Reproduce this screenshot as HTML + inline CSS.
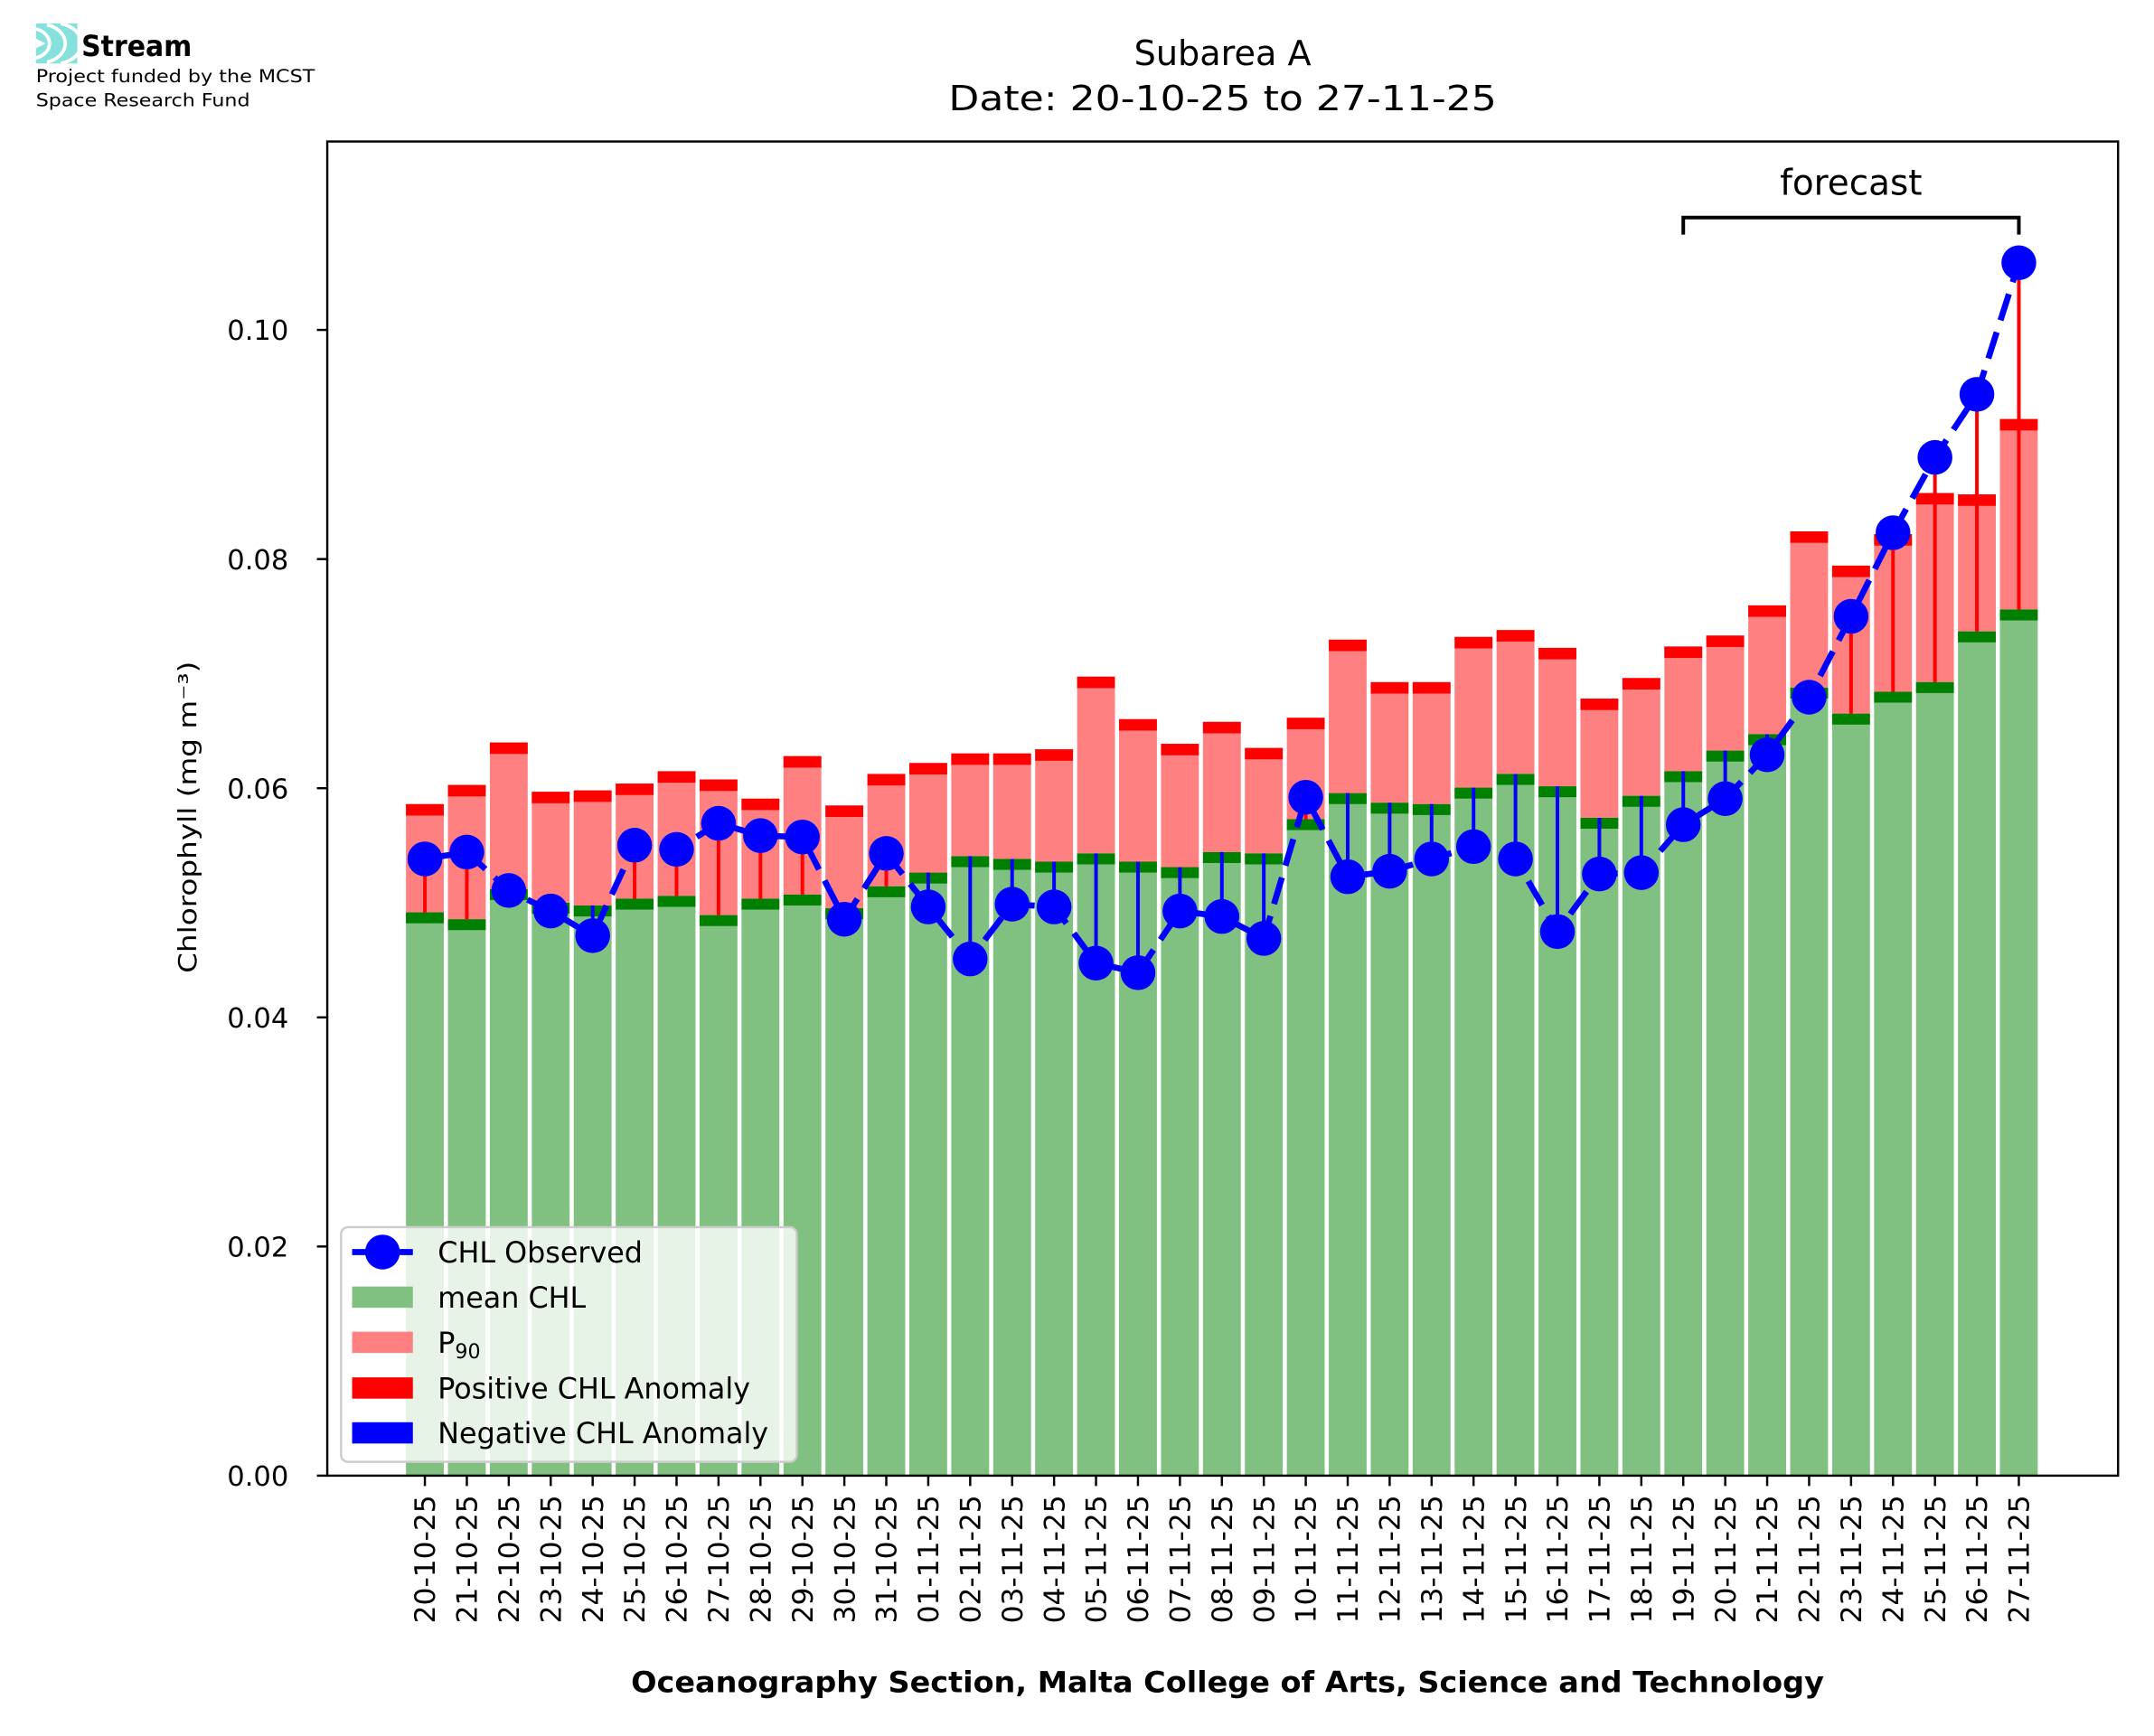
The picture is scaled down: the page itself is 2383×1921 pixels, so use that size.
<!DOCTYPE html>
<html><head><meta charset="utf-8"><style>html,body{margin:0;padding:0;background:#fff}svg{display:block}</style></head>
<body>
<svg id="c" xmlns="http://www.w3.org/2000/svg" width="2383" height="1921" viewBox="0 0 1560 1257.6" font-family="DejaVu Sans, Liberation Sans, sans-serif">
<rect width="1560" height="1257.6" fill="#fff"/>
<g id="plot"></g>
<g>
<rect x="26" y="17" width="30" height="29" fill="#86e0dc"/>
<path d="M26 21 A14 11 0 0 1 26 42" fill="none" stroke="#fff" stroke-width="2.5"/>
<path d="M34 18 A18 14 0 0 1 34 45" fill="none" stroke="#fff" stroke-width="2.5"/>
<path d="M44 17 A20 15 0 0 1 44 46" fill="none" stroke="#fff" stroke-width="2.5"/>
<path d="M26 28 L33 31.5 L26 35 Z" fill="#fff"/>
<text x="59" y="40.5" font-size="21" font-weight="bold" textLength="80" lengthAdjust="spacingAndGlyphs">Stream</text>
<text x="26" y="59.5" font-size="12.5" textLength="202" lengthAdjust="spacingAndGlyphs">Project funded by the MCST</text>
<text x="26" y="77" font-size="12.5" textLength="155" lengthAdjust="spacingAndGlyphs">Space Research Fund</text>
</g>
<text x="885.5" y="47" font-size="25" text-anchor="middle">Subarea A</text>
<text x="885.5" y="80" font-size="25" text-anchor="middle" textLength="397" lengthAdjust="spacingAndGlyphs">Date: 20-10-25 to 27-11-25</text>
</svg>
<script>
(function(){
var NS="http://www.w3.org/2000/svg";
var g=document.getElementById('plot');
function el(t,a,txt){var e=document.createElementNS(NS,t);for(var k in a)e.setAttribute(k,a[k]);if(txt!==undefined)e.textContent=txt;g.appendChild(e);return e;}
function cy(v){return 239+(v-240)*(830/836);}
var dates=["20-10-25","21-10-25","22-10-25","23-10-25","24-10-25","25-10-25","26-10-25","27-10-25","28-10-25","29-10-25","30-10-25","31-10-25","01-11-25","02-11-25","03-11-25","04-11-25","05-11-25","06-11-25","07-11-25","08-11-25","09-11-25","10-11-25","11-11-25","12-11-25","13-11-25","14-11-25","15-11-25","16-11-25","17-11-25","18-11-25","19-11-25","20-11-25","21-11-25","22-11-25","23-11-25","24-11-25","25-11-25","26-11-25","27-11-25"];
var d=[[586,665,626],[572,670,621],[541,648,649],[577,658,664],[576,660,682],[571,655,616],[562,653,619],[568,667,600],[582,655,609],[551,652,610],[587,662,670],[564,646,622],[556,636,661],[549,624,699],[549,626,659],[546,628,661],[493,622,702],[524,628,709],[542,632,664],[526,621,668],[545,622,684],[523,597,581],[466,578,639],[497,585,635],[497,586,626],[464,574,617],[459,564,626],[472,573,679],[509,596,637],[494,580,636],[471,562,601],[463,547,582],[441,535,550],[387,501,508],[412,520,449],[389,504,388],[359,497,333],[360,460,287],[305,444,191]];
var y0=1069,left=237,right=1534,top=102.5;
var x0=307.7,dx=30.38,bw=27.4;
var i,x,p,m,o;
for(i=0;i<d.length;i++){
 x=x0+i*dx;p=cy(d[i][0]);m=cy(d[i][1]);o=cy(d[i][2]);
 el('rect',{x:x-bw/2,y:m,width:bw,height:y0-m,fill:'#80c080'});
 el('rect',{x:x-bw/2,y:p,width:bw,height:m-p,fill:'#ff8080'});
 el('rect',{x:x-bw/2,y:p,width:bw,height:8.3,fill:'#ff0000'});
 el('rect',{x:x-bw/2,y:m,width:bw,height:7.9,fill:'#008000'});
}
for(i=0;i<d.length;i++){
 x=x0+i*dx;m=cy(d[i][1]);o=cy(d[i][2]);
 el('line',{x1:x,y1:m,x2:x,y2:o,stroke:(o<m?'#ff0000':'#0000ff'),'stroke-width':2.6});
}
var pts=[];for(i=0;i<d.length;i++)pts.push((x0+i*dx).toFixed(2)+','+cy(d[i][2]).toFixed(2));
el('polyline',{points:pts.join(' '),fill:'none',stroke:'#0000ff','stroke-width':4.4,'stroke-dasharray':'20 9'});
for(i=0;i<d.length;i++)el('circle',{cx:x0+i*dx,cy:cy(d[i][2]),r:12.6,fill:'#0000ff'});
var bx1=x0+30*dx,bx2=x0+38*dx;
el('path',{d:'M'+bx1+' 170 L'+bx1+' 157.6 L'+bx2+' 157.6 L'+bx2+' 170',fill:'none',stroke:'#000','stroke-width':2.6});
el('text',{x:(bx1+bx2)/2,y:141,'font-size':25.5,'text-anchor':'middle'},'forecast');
el('rect',{x:left,y:top,width:right-left,height:y0-top,fill:'none',stroke:'#000','stroke-width':1.6});
var lab=["0.00","0.02","0.04","0.06","0.08","0.10"];
for(i=0;i<6;i++){var yy=y0-i*166;
 el('line',{x1:left-7.5,y1:yy,x2:left,y2:yy,stroke:'#000','stroke-width':1.6});
 el('text',{x:209,y:yy+7.3,'font-size':20,'text-anchor':'end'},lab[i]);}
for(i=0;i<dates.length;i++){x=x0+i*dx;
 el('line',{x1:x,y1:y0,x2:x,y2:y0+7.5,stroke:'#000','stroke-width':1.6});
 el('text',{x:0,y:0,'font-size':20.5,'text-anchor':'end',transform:'translate('+(x+7.3)+','+(y0+14)+') rotate(-90)'},dates[i]);}
el('text',{x:0,y:0,'font-size':18,'text-anchor':'middle',transform:'translate(142,592) rotate(-90)',textLength:226,lengthAdjust:'spacingAndGlyphs'},'Chlorophyll (mg m\u207B\u00B3)');
el('text',{x:889,y:1226,'font-size':20.8,'font-weight':'bold','text-anchor':'middle',textLength:864,lengthAdjust:'spacingAndGlyphs'},'Oceanography Section, Malta College of Arts, Science and Technology');
el('rect',{x:247,y:889,width:330,height:170,rx:5,fill:'#fff','fill-opacity':0.8,stroke:'#ccc','stroke-width':1.6});
var ly=[907,939.7,972.4,1005.5,1038];
el('line',{x1:255,y1:ly[0],x2:299,y2:ly[0],stroke:'#0000ff','stroke-width':4.4});
el('circle',{cx:277,cy:ly[0],r:12.6,fill:'#0000ff'});
var cols=['#80c080','#ff8080','#ff0000','#0000ff'];
for(i=0;i<4;i++)el('rect',{x:255,y:ly[i+1]-7.7,width:44,height:15.4,fill:cols[i]});
var ytxt=7.5;
el('text',{x:317,y:ly[0]+ytxt,'font-size':20.8},'CHL Observed');
el('text',{x:317,y:ly[1]+ytxt,'font-size':20.8},'mean CHL');
var t=el('text',{x:317,y:ly[2]+ytxt,'font-size':20.8},'P');
var s=document.createElementNS(NS,'tspan');s.setAttribute('font-size','14.5');s.setAttribute('dy','4');s.textContent='90';t.appendChild(s);
el('text',{x:317,y:ly[3]+ytxt,'font-size':20.8},'Positive CHL Anomaly');
el('text',{x:317,y:ly[4]+ytxt,'font-size':20.8},'Negative CHL Anomaly');
})();
</script>
</body></html>
